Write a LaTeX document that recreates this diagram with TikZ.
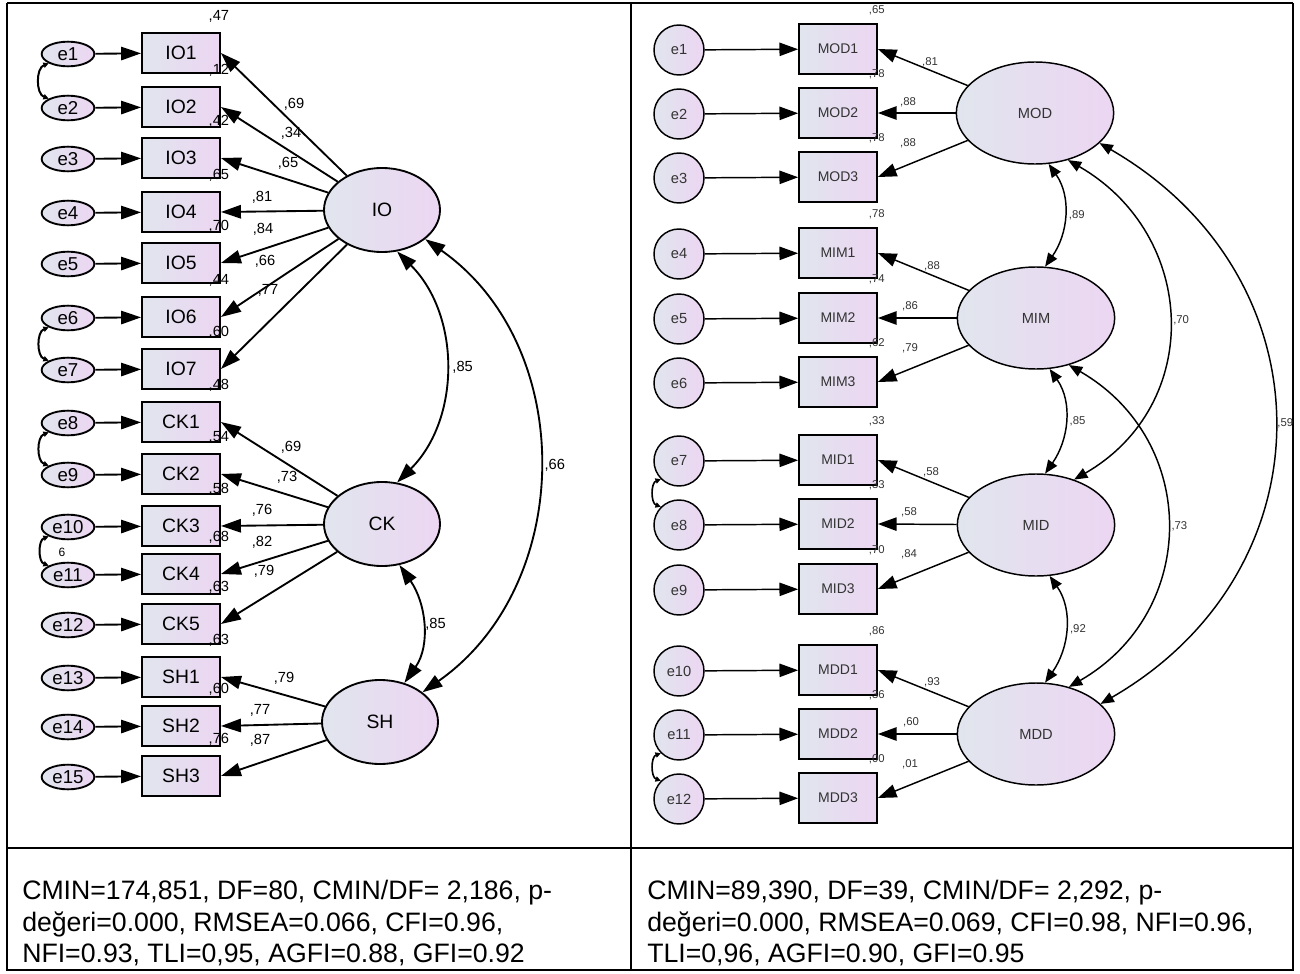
\documentclass[tikz,border=0pt]{standalone}
\usepackage{fontspec}
\setmainfont{Liberation Sans}
\usetikzlibrary{arrows.meta,shapes.geometric}

\definecolor{fillL}{RGB}{225,229,238}
\definecolor{fillR}{RGB}{236,214,242}

\begin{document}
\begin{tikzpicture}[
  x=0.75pt, y=0.75pt,
  every node/.style={inner sep=0pt},
  grad/.style={draw=black, left color=fillL, right color=fillR},
  % left model
  lerr/.style={grad, ellipse, line width=1.4pt, minimum width=39.5pt, minimum height=18.5pt, font=\fontsize{14}{16}\selectfont},
  lobs/.style={grad, rectangle, line width=1.4pt, minimum width=58.5pt, minimum height=30pt, font=\fontsize{14.5}{16}\selectfont},
  llat/.style={grad, ellipse, line width=1.4pt, minimum width=87pt, minimum height=63pt, font=\fontsize{14.5}{16}\selectfont},
  lnum/.style={font=\fontsize{11}{12}\selectfont},
  larr/.style={-{Triangle[length=15pt,width=10pt]}, line width=1.4pt},
  lcov/.style={{Triangle[length=15pt,width=10pt]}-{Triangle[length=15pt,width=10pt]}, line width=1.4pt},
  % right model
  rerr/.style={grad, circle, line width=1.1pt, minimum size=37.5pt, font=\fontsize{11}{13}\selectfont, text=black!80},
  robs/.style={grad, rectangle, line width=1.3pt, minimum width=58.5pt, minimum height=37.5pt, font=\fontsize{10.5}{12}\selectfont, text=black!80},
  rlat/.style={grad, ellipse, line width=1.1pt, minimum width=118pt, minimum height=76.5pt, font=\fontsize{11}{13}\selectfont, text=black!80},
  rnum/.style={font=\fontsize{8.5}{10}\selectfont, text=black!80},
  rarr/.style={-{Triangle[length=14pt,width=10pt]}, line width=1.1pt},
  rcov/.style={{Triangle[length=10pt,width=8pt]}-{Triangle[length=10pt,width=8pt]}, line width=1.1pt},
  tcov/.style={{Triangle[length=4pt,width=4pt]}-{Triangle[length=4pt,width=4pt]}, line width=1.5pt},
  fitnote/.style={anchor=north west, align=left, font=\fontsize{20}{23.6}\selectfont}
]
  \useasboundingbox (0,0) rectangle (1300,-974);

  % table rules
  \draw[line width=1.5pt] (7,-3) -- (7,-970) -- (1293,-970) -- (1293,-3);
  \draw[line width=0.9pt] (7,-3) -- (1293,-3);
  \draw[line width=1.5pt] (631,-3) -- (631,-970);
  \draw[line width=1.5pt] (7,-848) -- (1293,-848);

  % --- left model ---
  \node[llat] (IO) at (382,-210) {IO};
  \node[llat] (CK) at (382,-524) {CK};
  \node[llat] (SH) at (380,-722) {SH};

  \foreach \i/\nm/\y/\lat in {1/IO1/53/IO, 2/IO2/107/IO, 3/IO3/158/IO, 4/IO4/212/IO,
      5/IO5/263/IO, 6/IO6/317/IO, 7/IO7/369/IO, 8/CK1/422/CK, 9/CK2/474/CK,
      10/CK3/526/CK, 11/CK4/574/CK, 12/CK5/624/CK, 13/SH1/677/SH, 14/SH2/726/SH, 15/SH3/776/SH} {
    \node[lerr] (le\i) at (68,-\y-1) {e\i};
    \node[lobs] (l\nm) at (181,-\y) {\nm};
    \draw[larr] (le\i) -- (l\nm);
    \draw[larr] (\lat) -- (l\nm.east);
  }

  \foreach \nm/\rr/\lam/\lx/\ly in {IO1/47/69/294/104, IO2/12/34/291/133, IO3/42/65/288/163,
      IO4/65/81/262/197, IO5/70/84/263/229, IO6/44/66/265/261, IO7/60/77/268/290,
      CK1/48/69/291/447, CK2/54/73/287/477, CK3/58/76/262/510, CK4/68/82/262/542,
      CK5/63/79/264/571, SH1/63/79/284/678, SH2/60/77/260/710, SH3/76/87/260/740} {
    \node[lnum] (r2l\nm) at ([shift={(-2,16)}]l\nm.north east) {,\rr};
    \node[lnum] (wl\nm) at (\lx,-\ly) {,\lam};
  }

  \draw[lcov] (IO.-70) to[out=-45, in=45] node[lnum, right=5pt] (cIOCK) {,85} (CK.70);
  \draw[lcov] (IO.-34) to[out=-35, in=35, looseness=1.05] node[lnum, right=4pt] (cIOSH) {,66} (SH.35);
  \draw[lcov] (CK.-67) to[out=-55, in=55] node[lnum, right=2pt] (cCKSH) {,85} (SH.58);

  % error covariances
  \draw[tcov] (le1.south west) to[bend right=70] (le2.north west);
  \draw[tcov] (le6.south west) to[bend right=70] (le7.north west);
  \draw[tcov] (le8.south west) to[bend right=70] (le9.north west);
  \draw[tcov] (le10.south west) to[bend right=70] (le11.north west);
  \node[font=\fontsize{9}{10}\selectfont] (c1011) at (62,-552) {6};

  % --- right model ---
  \node[rlat] (MOD) at (1035,-113) {MOD};
  \node[rlat] (MIM) at (1036,-318) {MIM};
  \node[rlat] (MID) at (1036,-525) {MID};
  \node[rlat] (MDD) at (1036,-734) {MDD};

  \foreach \i/\nm/\y/\lat/\rr/\lam/\lx/\ly in {
      1/MOD1/49/MOD/65/81/930/62, 2/MOD2/113/MOD/78/88/908/102, 3/MOD3/177/MOD/78/88/908/143,
      4/MIM1/253/MIM/78/88/932/266, 5/MIM2/318/MIM/74/86/910/306, 6/MIM3/382/MIM/62/79/910/348,
      7/MID1/460/MID/33/58/931/472, 8/MID2/524/MID/33/58/909/512, 9/MID3/589/MID/70/84/909/554,
      10/MDD1/670/MDD/86/93/932/682, 11/MDD2/734/MDD/36/60/911/722, 12/MDD3/798/MDD/00/01/910/764} {
    \node[rerr] (re\i) at (679,-\y-1) {e\i};
    \node[robs] (r\nm) at (838,-\y) {\nm};
    \draw[rarr] (re\i) -- (r\nm);
    \draw[rarr] (\lat) -- (r\nm.east);
    \node[rnum] (r2r\nm) at ([shift={(-1,13)}]r\nm.north east) {,\rr};
    \node[rnum] (wr\nm) at (\lx,-\ly) {,\lam};
  }

  \draw[rcov] (MOD.-75) to[out=-55, in=55] node[rnum, right=3pt] (cMODMIM) {,89} (MIM.80);
  \draw[rcov] (MIM.-75) to[out=-55, in=55] node[rnum, right=3pt] (cMIMMID) {,85} (MID.80);
  \draw[rcov] (MID.-75) to[out=-55, in=55] node[rnum, right=3pt] (cMIDMDD) {,92} (MDD.80);
  \draw[rcov] (MOD.-55) to[out=-30, in=30, looseness=1.2] node[rnum, right=3pt] (cMODMID) {,70} (MID.50);
  \draw[rcov] (MIM.-55) to[out=-30, in=30, looseness=1.2] node[rnum, right=3pt] (cMIMMDD) {,73} (MDD.55);
  \draw[rcov] (MOD.-25) to[out=-30, in=30, looseness=1.22] node[rnum, right=2pt] (cMODMDD) {,59} (MDD.25);

  \draw[tcov, line width=1.2pt] (re7.south west) to[bend right=70] (re8.north west);
  \draw[tcov, line width=1.2pt] (re11.south west) to[bend right=70] (re12.north west);

  % fit indices
  \node[fitnote] (fitL) at (22,-880) {CMIN=174,851, DF=80, CMIN/DF= 2,186, p-\\değeri=0.000, RMSEA=0.066, CFI=0.96,\\NFI=0.93, TLI=0,95, AGFI=0.88, GFI=0.92};
  \node[fitnote] (fitR) at (647,-880) {CMIN=89,390, DF=39, CMIN/DF= 2,292, p-\\değeri=0.000, RMSEA=0.069, CFI=0.98, NFI=0.96,\\TLI=0,96, AGFI=0.90, GFI=0.95};
\end{tikzpicture}
\end{document}
